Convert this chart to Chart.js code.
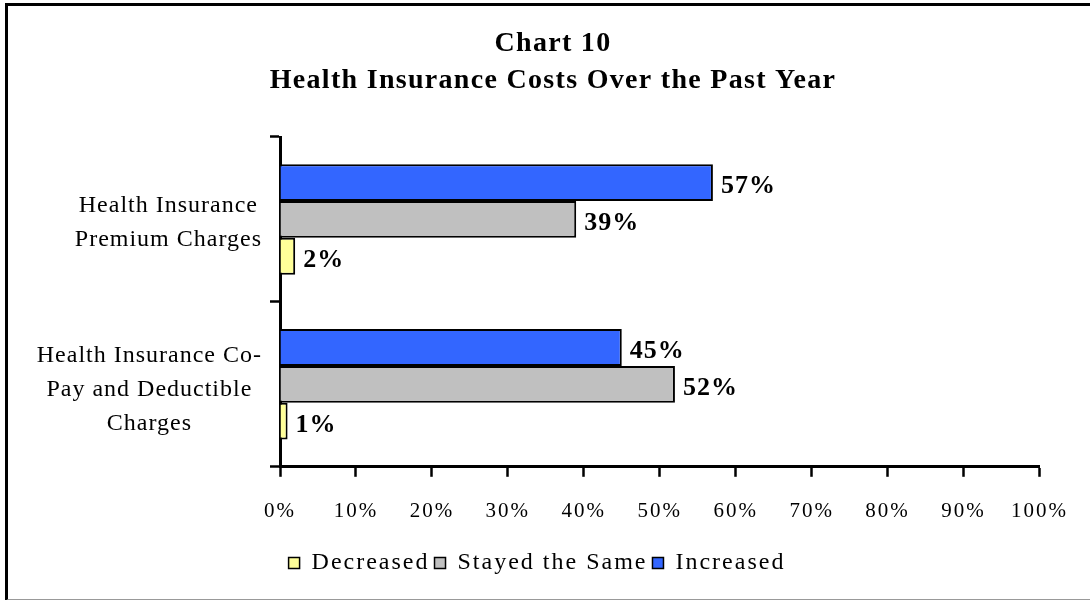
<!DOCTYPE html>
<html>
<head>
<meta charset="utf-8">
<script src="https://cdn.jsdelivr.net/npm/chart.js@4"></script>
<style>
  body { margin: 0; background: #fff; }
  #wrap { position: relative; width: 1090px; height: 600px; overflow: hidden; }
  #frame { position: absolute; left: 5px; top: 3px; width: 1200px; height: 593px;
           border-left: 3px solid #000; border-top: 3px solid #000; border-bottom: 2px solid #999; }
  canvas { position: absolute; left: 0; top: 0; }
</style>
</head>
<body>
<div id="wrap">
  <div id="frame"></div>
  <canvas id="chart" width="1090" height="600"></canvas>
</div>
<script>
const titleLines = ['Chart 10', 'Health Insurance Costs Over the Past Year'];
const categories = [
  ['Health Insurance', 'Premium Charges'],
  ['Health Insurance Co-', 'Pay and Deductible', 'Charges']
];
const increased = [57, 45];
const stayedSame = [39, 52];
const decreased = [2, 1];
const xTickStep = 10;

const serif = "'Liberation Serif', 'Times New Roman', serif";

// letter spacing gets lost when canvas state resets, so set it every pass
const spacing = {
  id: 'spacing',
  beforeUpdate(chart) { chart.ctx.letterSpacing = '2px'; },
  beforeDraw(chart) { chart.ctx.letterSpacing = '2px'; }
};

// two line title, drawn at a fixed centre
const titlePlugin = {
  id: 'titleText',
  afterDraw(chart) {
    const ctx = chart.ctx;
    ctx.save();
    ctx.letterSpacing = '1.3px';
    ctx.font = 'bold 28px ' + serif;
    ctx.fillStyle = '#000';
    ctx.textAlign = 'center';
    ctx.textBaseline = 'middle';
    ctx.fillText(titleLines[0], 553, 44);
    ctx.fillText(titleLines[1], 553, 81);
    ctx.restore();
  }
};

// category labels: block right aligned, lines centred in the block
const yLabels = {
  id: 'yLabels',
  afterDraw(chart) {
    const ctx = chart.ctx;
    const y = chart.scales.y;
    const right = y.right - 18;
    const lh = 34;
    ctx.save();
    ctx.letterSpacing = '1px';
    ctx.font = '24px ' + serif;
    ctx.fillStyle = '#000';
    ctx.textAlign = 'center';
    ctx.textBaseline = 'middle';
    categories.forEach((lines, i) => {
      const w = Math.max(...lines.map(l => ctx.measureText(l).width));
      const cx = right - w / 2;
      const cy = y.getPixelForValue(i) + 3 + (lines.length - 2) * 2.5;
      lines.forEach((l, j) => {
        ctx.fillText(l, cx, cy + (j - (lines.length - 1) / 2) * lh);
      });
    });
    ctx.restore();
  }
};

// value labels at the end of each bar
const valueLabels = {
  id: 'valueLabels',
  afterDatasetsDraw(chart) {
    const ctx = chart.ctx;
    ctx.save();
    ctx.letterSpacing = '1px';
    ctx.font = 'bold 26px ' + serif;
    ctx.fillStyle = '#000';
    ctx.textAlign = 'left';
    ctx.textBaseline = 'middle';
    chart.data.datasets.forEach((ds, i) => {
      chart.getDatasetMeta(i).data.forEach((bar, j) => {
        ctx.fillText(ds.data[j] + '%', bar.x + 8, bar.y + 4);
      });
    });
    ctx.restore();
  }
};

new Chart(document.getElementById('chart'), {
  type: 'bar',
  data: {
    labels: categories,
    datasets: [
      { label: 'Increased', data: increased, backgroundColor: '#3366FF' },
      { label: 'Stayed the Same', data: stayedSame, backgroundColor: '#C0C0C0' },
      { label: 'Decreased', data: decreased, backgroundColor: '#FFFF99' }
    ]
  },
  options: {
    indexAxis: 'y',
    responsive: false,
    animation: false,
    datasets: {
      bar: {
        borderColor: '#000',
        borderWidth: 2,
        barPercentage: 1,
        categoryPercentage: 0.67
      }
    },
    layout: { padding: { top: 137, left: 31, right: 47, bottom: 15 } },
    scales: {
      x: {
        min: 0,
        max: 100,
        ticks: {
          stepSize: xTickStep,
          color: '#000',
          padding: 22,
          font: { family: serif, size: 21 },
          callback: v => v + '%'
        },
        grid: { drawOnChartArea: false, drawTicks: true, tickLength: 10, tickWidth: 2.5, tickColor: '#000' },
        border: { display: true, color: '#000', width: 3 }
      },
      y: {
        ticks: { display: false },
        grid: { drawOnChartArea: false, drawTicks: true, tickLength: 10, tickWidth: 2.5, tickColor: '#000' },
        border: { display: true, color: '#000', width: 3 },
        afterFit(scale) { scale.width = 249; }
      }
    },
    plugins: {
      title: { display: false },
      tooltip: { enabled: false },
      legend: {
        position: 'bottom',
        reverse: true,
        labels: {
          color: '#000',
          boxWidth: 11,
          boxHeight: 11,
          padding: 5,
          font: { family: serif, size: 24 },
          generateLabels(chart) {
            return chart.data.datasets.map((ds, i) => ({
              text: ds.label,
              fillStyle: ds.backgroundColor,
              strokeStyle: '#000',
              lineWidth: 1.5,
              datasetIndex: i
            }));
          }
        }
      }
    }
  },
  plugins: [spacing, titlePlugin, yLabels, valueLabels]
});
</script>
</body>
</html>
